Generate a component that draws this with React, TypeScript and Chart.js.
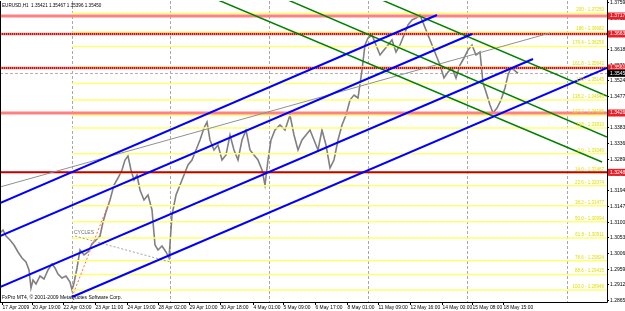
import { useEffect, useRef } from "react";
import { Chart, registerables } from "chart.js";
Chart.register(...registerables);

const FONT = "Liberation Sans";

// H1 bar index (1 bar = 1 px in the original terminal) and close price
const priceBars = [0,3,6,10,14,18,22,26,29,31,33,36,40,44,48,52,55,58,62,66,70,72,74,77,80,84,88,92,96,100,103,106,110,114,118,122,125,128,131,134,137,140,144,148,152,155,158,162,166,169,172,176,180,184,188,192,196,200,204,207,210,214,218,222,226,230,234,238,242,246,250,254,258,262,265,268,271,275,280,285,290,294,298,302,306,310,314,318,322,326,330,334,338,342,346,350,354,358,362,365,368,372,376,380,384,388,392,396,400,404,408,412,416,420,424,428,432,436,440,444,448,452,456,460,464,468,472,476,480,483,486,490,493,497,501,505,508,511,514,518];
const priceClose = [1.3066,1.3075,1.3057,1.3045,1.3030,1.3009,1.2991,1.2979,1.2955,1.2901,1.2925,1.2913,1.2937,1.2928,1.2955,1.2973,1.2961,1.2943,1.2931,1.2937,1.2919,1.2895,1.2916,1.2961,1.3015,1.3000,1.3009,1.3033,1.3045,1.3057,1.3099,1.3129,1.3165,1.3210,1.3231,1.3255,1.3285,1.3297,1.3255,1.3225,1.3240,1.3195,1.3165,1.3180,1.3135,1.3030,1.3015,1.3027,1.3009,1.2991,1.3120,1.3180,1.3210,1.3240,1.3270,1.3285,1.3315,1.3345,1.3381,1.3399,1.3345,1.3315,1.3330,1.3285,1.3300,1.3360,1.3315,1.3285,1.3345,1.3375,1.3315,1.3300,1.3285,1.3255,1.3210,1.3285,1.3345,1.3375,1.3390,1.3375,1.3420,1.3360,1.3315,1.3345,1.3360,1.3375,1.3345,1.3315,1.3375,1.3330,1.3261,1.3285,1.3345,1.3390,1.3420,1.3465,1.3480,1.3471,1.3555,1.3630,1.3651,1.3660,1.3630,1.3600,1.3615,1.3630,1.3645,1.3609,1.3630,1.3660,1.3690,1.3705,1.3711,1.3720,1.3690,1.3660,1.3630,1.3600,1.3570,1.3531,1.3549,1.3561,1.3531,1.3570,1.3591,1.3615,1.3630,1.3600,1.3609,1.3516,1.3489,1.3450,1.3426,1.3441,1.3465,1.3501,1.3540,1.3561,1.3555,1.3545];

const yTickLabels = ["1.37590","1.37120","1.36650","1.36180","1.35710","1.35240","1.34770","1.34300","1.33830","1.33360","1.32890","1.32420","1.31940","1.31470","1.31000","1.30530","1.30060","1.29590","1.29120","1.28650"];
const xTickBars = [2,32,63,95,127,158,189,220,253,283,315,347,378,410,442,472,503];
const xTickLabels = ["17 Apr 2009","20 Apr 19:00","22 Apr 03:00","23 Apr 11:00","24 Apr 19:00","28 Apr 02:00","29 Apr 10:00","30 Apr 18:00","4 May 01:00","5 May 09:00","6 May 17:00","8 May 01:00","11 May 09:00","12 May 16:00","14 May 00:00","15 May 08:00","18 May 15:00"];

const fibPrices = [1.37250,1.36682,1.36256,1.35642,1.35145,1.34648,1.34185,1.33810,1.33040,1.32467,1.32074,1.31477,1.30994,1.30511,1.29824,1.29415,1.28948];
const fibTexts = ["200 - 1.37250","186 - 1.36682","176.4 - 1.36256","161.8 - 1.35642","150 - 1.35145","138.2 - 1.34648","127.2 - 1.34185","118 - 1.33810","0.0 - 1.33040","14.0 - 1.32467","23.6 - 1.32074","38.2 - 1.31477","50.0 - 1.30994","61.8 - 1.30511","78.6 - 1.29824","88.6 - 1.29415","100.0 - 1.28948"];
const fibStartBar = 72;

const salmonLevels = [1.3717, 1.3426];
const dottedLevels = [1.3663, 1.3561];
const crimsonLevels = [1.3248];
const levelLabels = [["1.37170", 1.3717], ["1.36630", 1.3663], ["1.35610", 1.3561], ["1.34260", 1.3426], ["1.32480", 1.3248]];
const bidPrice = 1.3545;
const bidText = "1.35450";

// trend lines: [startBar, startPrice, endBar, endPrice]
const greenLines = [[382,1.3765,607,1.3477],[288,1.3765,607,1.3354],[218,1.3765,602,1.3279]];
const blueLines = [[0,1.3156,437,1.3720],[0,1.3057,472,1.3663],[0,1.2904,533,1.3588],[72,1.2874,607,1.3561]];
const grayLines = [[0,1.3204,550,1.3666]];
const cycleLine = [75,1.3057,170,1.2979];
const orangeLine = [72,1.2874,110,1.3165];
const cycleBars = [72,170,269,368,467,567];

const X_MAX = 607;
const Y_MIN = 1.2859;
const Y_MAX = 1.3762;

function seg(l: number[], color: string, width: number, dash: number[] = []) {
  return {
    type: "line" as const,
    data: [{ x: l[0], y: l[1] }, { x: l[2], y: l[3] }],
    borderColor: color,
    borderWidth: width,
    borderDash: dash,
    pointRadius: 0,
    fill: false,
  };
}

const overlay = {
  id: "overlay",
  beforeDatasetsDraw(chart: any) {
    const { ctx, chartArea: a, scales } = chart;
    ctx.save();
    ctx.strokeStyle = "#a8a8a8";
    ctx.lineWidth = 1;
    ctx.setLineDash([3, 2]);
    for (const b of cycleBars) {
      const px = Math.round(scales.x.getPixelForValue(b)) + 0.5;
      ctx.beginPath();
      ctx.moveTo(px, a.top);
      ctx.lineTo(px, a.bottom);
      ctx.stroke();
    }
    ctx.strokeStyle = "#b0b0b0";
    const by = Math.round(scales.y.getPixelForValue(bidPrice)) + 0.5;
    ctx.beginPath();
    ctx.moveTo(a.left, by);
    ctx.lineTo(a.right, by);
    ctx.stroke();
    ctx.restore();
  },
  afterDatasetsDraw(chart: any) {
    const { ctx, chartArea: a, scales } = chart;
    ctx.save();
    ctx.font = `4.5px "${FONT}"`;
    ctx.fillStyle = "#dede00";
    ctx.textAlign = "right";
    ctx.textBaseline = "bottom";
    fibPrices.forEach((p, i) => {
      const py = scales.y.getPixelForValue(p);
      ctx.fillText(fibTexts[i], a.right - 3, py - 1);
    });
    ctx.font = `5px "${FONT}"`;
    ctx.fillStyle = "#707070";
    ctx.textAlign = "left";
    ctx.fillText("CYCLES", scales.x.getPixelForValue(cycleLine[0]) - 1, scales.y.getPixelForValue(cycleLine[1]) - 1);
    ctx.fillStyle = "#000";
    ctx.font = `4.6px "${FONT}"`;
    ctx.textBaseline = "top";
    ctx.fillText("EURUSD,H1  1.35421 1.35467 1.35396 1.35450", 2, 3);
    ctx.font = `5px "${FONT}"`;
    ctx.textBaseline = "bottom";
    ctx.fillText("FxPro MT4, \u00a9 2001-2009 MetaQuotes Software Corp.", 2, a.bottom - 2);
    ctx.restore();
  },
  afterDraw(chart: any) {
    const { ctx, chartArea: a, scales } = chart;
    ctx.save();
    ctx.strokeStyle = "#000";
    ctx.lineWidth = 1;
    ctx.beginPath();
    ctx.moveTo(a.right + 0.5, 0);
    ctx.lineTo(a.right + 0.5, a.bottom + 0.5);
    ctx.lineTo(0, a.bottom + 0.5);
    ctx.moveTo(0.5, a.top);
    ctx.lineTo(0.5, a.bottom);
    ctx.stroke();
    ctx.font = `5px "${FONT}"`;
    ctx.fillStyle = "#000";
    ctx.textBaseline = "middle";
    ctx.textAlign = "left";
    for (const t of yTickLabels) {
      const py = Math.round(scales.y.getPixelForValue(parseFloat(t))) + 0.5;
      ctx.beginPath();
      ctx.moveTo(a.right, py);
      ctx.lineTo(a.right + 2, py);
      ctx.stroke();
      ctx.fillText(t, a.right + 3, py);
    }
    ctx.font = `4.9px "${FONT}"`;
    ctx.textBaseline = "top";
    xTickBars.forEach((b, i) => {
      const px = Math.round(scales.x.getPixelForValue(b)) + 0.5;
      ctx.beginPath();
      ctx.moveTo(px, a.bottom);
      ctx.lineTo(px, a.bottom + 3);
      ctx.stroke();
      ctx.fillText(xTickLabels[i], px, a.bottom + 3);
    });
    ctx.font = `5px "${FONT}"`;
    const box = (txt: string, p: number, bg: string) => {
      const py = scales.y.getPixelForValue(p);
      ctx.fillStyle = bg;
      ctx.fillRect(a.right + 1, py - 3.5, 30, 7);
      ctx.fillStyle = "#fff";
      ctx.textBaseline = "middle";
      ctx.fillText(txt, a.right + 3, py);
    };
    for (const [t, p] of levelLabels) box(t as string, p as number, "#e8202a");
    box(bidText, bidPrice, "#000");
    ctx.restore();
  },
};

export default function App() {
  const ref = useRef<HTMLCanvasElement>(null);
  useEffect(() => {
    const datasets: any[] = [];
    blueLines.forEach((l) => datasets.push(seg(l, "#0000ff", 2)));
    greenLines.forEach((l) => datasets.push(seg(l, "#008000", 1.5)));
    datasets.push(seg(orangeLine, "#ff7040", 1, [2, 2]));
    datasets.push(seg(cycleLine, "#a0a0a0", 1, [2, 2]));
    grayLines.forEach((l) => datasets.push(seg(l, "#909090", 1)));
    crimsonLevels.forEach((p) => datasets.push(seg([0, p, X_MAX, p], "#c00000", 2)));
    dottedLevels.forEach((p) => datasets.push(seg([0, p, X_MAX, p], "#900000", 1.5, [1, 1])));
    dottedLevels.forEach((p) => datasets.push(seg([0, p, X_MAX, p], "#ff7070", 2.5)));
    salmonLevels.forEach((p) => datasets.push(seg([0, p, X_MAX, p], "#ff8080", 3)));
    fibPrices.forEach((p) => datasets.push(seg([fibStartBar, p, X_MAX, p], "#ffff70", 1.5)));
    datasets.push({
      type: "line",
      data: priceBars.map((b, i) => ({ x: b, y: priceClose[i] })),
      borderColor: "#808080",
      borderWidth: 1.6,
      pointRadius: 0,
      fill: false,
    });
    const chart = new Chart(ref.current as HTMLCanvasElement, {
      type: "line",
      data: { datasets },
      plugins: [overlay],
      options: {
        responsive: false,
        animation: false,
        events: [],
        layout: { padding: { top: 1, right: 18, bottom: 9, left: 0 } },
        plugins: { legend: { display: false }, tooltip: { enabled: false } },
        elements: { line: { tension: 0 }, point: { radius: 0 } },
        scales: {
          x: { type: "linear", display: false, min: 0, max: X_MAX },
          y: { type: "linear", display: false, min: Y_MIN, max: Y_MAX },
        },
      },
    });
    return () => chart.destroy();
  }, []);
  return (
    <div style={{ position: "fixed", left: 0, top: 0, width: 625, height: 311, background: "#fff" }}>
      <canvas ref={ref} width={625} height={311} />
    </div>
  );
}
